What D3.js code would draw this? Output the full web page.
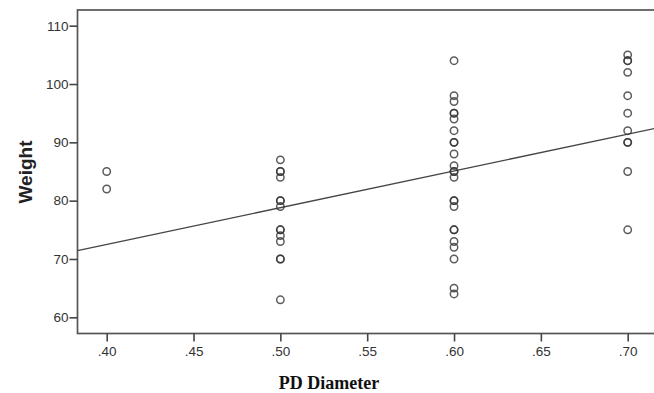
<!DOCTYPE html>
<html><head><meta charset="utf-8">
<script src="https://cdn.jsdelivr.net/npm/d3@7"></script>
<style>body{margin:0;background:#fff;}svg{display:block;}
.axis text{font-family:"Liberation Sans",Arial,sans-serif;font-size:13.5px;fill:#333;}</style>
</head><body>
<svg id="chart" width="654" height="393"></svg>
<script>
// Data
const xCategories = [0.40, 0.50, 0.60, 0.70];
const weights040 = [85, 82];
const weights050 = [87, 85, 85, 84, 80, 80, 79, 75, 75, 74, 73, 70, 70, 63];
const weights060 = [104, 98, 97, 95, 95, 94, 92, 90, 90, 88, 86, 85, 85, 84, 80, 80, 79, 75, 75, 73, 72, 70, 65, 64];
const weights070 = [105, 104, 104, 102, 98, 95, 92, 90, 90, 85, 75];
const xTicks = [0.40, 0.45, 0.50, 0.55, 0.60, 0.65, 0.70];
const yTicks = [60, 70, 80, 90, 100, 110];
const fitIntercept = 47.3;
const fitSlope = 63.0;

const seriesByX = [weights040, weights050, weights060, weights070];
const points = [];
xCategories.forEach((x, i) => seriesByX[i].forEach(w => points.push({x, w})));

const svg = d3.select("#chart");
const frame = {left: 77.5, top: 10, bottom: 333.5, right: 664};
const x = d3.scaleLinear().domain([0.40, 0.70]).range([106.7, 627.7]);
const y = d3.scaleLinear().domain([60, 110]).range([317.3, 25.7]);

// clip
svg.append("clipPath").attr("id","clip").append("rect")
  .attr("x", frame.left).attr("y", frame.top)
  .attr("width", frame.right - frame.left).attr("height", frame.bottom - frame.top);

// frame
svg.append("rect").attr("x", frame.left).attr("y", frame.top)
  .attr("width", frame.right - frame.left).attr("height", frame.bottom - frame.top)
  .attr("fill", "none").attr("stroke", "#555").attr("stroke-width", 1.7);

// regression line
const x0 = x.invert(frame.left), x1 = x.invert(frame.right);
svg.append("line").attr("clip-path","url(#clip)")
  .attr("x1", x(x0)).attr("y1", y(fitIntercept + fitSlope*x0))
  .attr("x2", x(x1)).attr("y2", y(fitIntercept + fitSlope*x1))
  .attr("stroke", "#444").attr("stroke-width", 1.3);

// points
svg.append("g").selectAll("circle").data(points).join("circle")
  .attr("cx", d => x(d.x)).attr("cy", d => y(d.w)).attr("r", 3.7)
  .attr("fill", "none").attr("stroke", "#333").attr("stroke-width", 1.5).attr("stroke-opacity", 0.8);

// y axis
const yAxis = d3.axisLeft(y).tickValues(yTicks).tickSize(8).tickPadding(1).tickFormat(d3.format("d"));
const gy = svg.append("g").attr("class", "axis").attr("transform", `translate(${frame.left},0)`).call(yAxis);
gy.attr("font-size", 13.5).attr("font-family", "Liberation Sans, Arial, sans-serif");
gy.select(".domain").remove();
gy.selectAll(".tick line").attr("stroke", "#444").attr("stroke-width", 1.6);

// x axis
const xAxis = d3.axisBottom(x).tickValues(xTicks).tickSize(8).tickPadding(5)
  .tickFormat(d => d3.format(".2f")(d).replace(/^0/, ""));
const gx = svg.append("g").attr("class", "axis").attr("transform", `translate(0,${frame.bottom})`).call(xAxis);
gx.attr("font-size", 13.5).attr("font-family", "Liberation Sans, Arial, sans-serif");
gx.select(".domain").remove();
gx.selectAll(".tick line").attr("stroke", "#444").attr("stroke-width", 1.6);

// titles
svg.append("text").attr("transform", "translate(32,172) rotate(-90)")
  .attr("text-anchor", "middle").attr("font-family", "Liberation Sans, Arial, sans-serif")
  .attr("font-weight", "bold").attr("font-size", "19px").attr("fill", "#222").text("Weight");
svg.append("text").attr("x", 329).attr("y", 389)
  .attr("text-anchor", "middle").attr("font-family", "Liberation Serif, Times New Roman, serif")
  .attr("font-weight", "bold").attr("font-size", "18px").attr("fill", "#111").text("PD Diameter");
</script>
</body></html>
